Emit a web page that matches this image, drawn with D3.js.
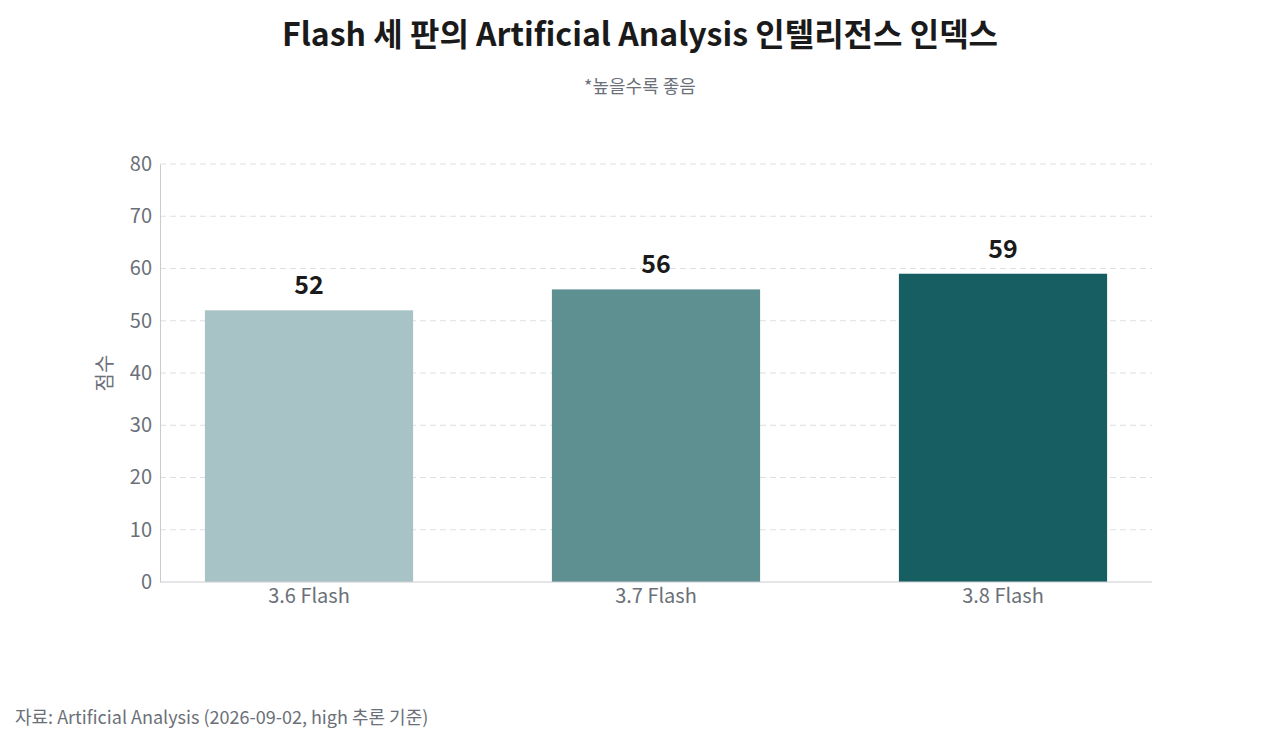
<!DOCTYPE html>
<html><head><meta charset="utf-8">
<script src="https://cdn.jsdelivr.net/npm/d3@7"></script>
<style>body{margin:0;background:#fff;font-family:"Noto Sans CJK KR","Noto Sans",sans-serif;}</style>
</head><body>
<svg id="chart" width="1280" height="747"></svg>
<script>
const categories = ["3.6 Flash", "3.7 Flash", "3.8 Flash"];
const scores = [52, 56, 59];
const barColors = ["#a7c3c5", "#5e8f91", "#175e63"];
const yTicks = [0, 10, 20, 30, 40, 50, 60, 70, 80];

const svg = d3.select("#chart");
const x = d3.scaleBand().domain(categories).range([135.5, 1176.5]).paddingInner(0.4).paddingOuter(0.2);
const y = d3.scaleLinear().domain([0, 80]).range([582, 164]);
const left = 160, right = 1152;

// grid
svg.append("g").selectAll("line").data(yTicks.slice(1)).join("line")
    .attr("x1", left).attr("x2", right)
    .attr("y1", d => y(d)).attr("y2", d => y(d))
    .attr("stroke", "#dcdfe3").attr("stroke-dasharray", "6,4");

// y axis
const yAxis = svg.append("g").attr("transform", `translate(${left},0)`)
    .call(d3.axisLeft(y).tickValues(yTicks).tickSize(0).tickPadding(8));
yAxis.select(".domain").attr("stroke", "#c8ccd1");
yAxis.selectAll("text").attr("font-size", 20).attr("fill", "#6b7078").attr("font-family", "Noto Sans CJK KR");

// bars
svg.append("g").selectAll("rect").data(scores).join("rect")
    .attr("x", (d, i) => x(categories[i])).attr("width", x.bandwidth())
    .attr("y", d => y(d)).attr("height", d => y(0) - y(d))
    .attr("fill", (d, i) => barColors[i]);

svg.append("g").selectAll("text").data(scores).join("text")
    .attr("x", (d, i) => x(categories[i]) + x.bandwidth() / 2)
    .attr("y", d => y(d) - 16).attr("text-anchor", "middle")
    .attr("font-size", 25).attr("font-weight", "bold").attr("fill", "#1a1a1a").text(d => d);

// x axis
const xAxis = svg.append("g").attr("transform", "translate(0,582)")
    .call(d3.axisBottom(x).tickSize(0).tickPadding(7));
xAxis.select(".domain").remove();
svg.append("line").attr("x1", left).attr("x2", right).attr("y1", 582).attr("y2", 582).attr("stroke", "#c8ccd1");
xAxis.selectAll("text").attr("font-size", 20).attr("fill", "#6b7078").attr("font-family", "Noto Sans CJK KR");

// labels
svg.append("text").attr("transform", "translate(112,373) rotate(-90)").attr("text-anchor", "middle")
    .attr("font-size", 20).attr("fill", "#6b7078").text("점수");
svg.append("text").attr("x", 640).attr("y", 46).attr("text-anchor", "middle")
    .attr("font-size", 32).attr("font-weight", "bold").attr("fill", "#1a1a1a")
    .text("Flash 세 판의 Artificial Analysis 인텔리전스 인덱스");
svg.append("text").attr("x", 640).attr("y", 93).attr("text-anchor", "middle")
    .attr("font-size", 18).attr("fill", "#6b7078").text("*높을수록 좋음");
svg.append("text").attr("x", 15).attr("y", 724)
    .attr("font-size", 18).attr("fill", "#6b7078").text("자료: Artificial Analysis (2026-09-02, high 추론 기준)");
</script>
</body></html>
